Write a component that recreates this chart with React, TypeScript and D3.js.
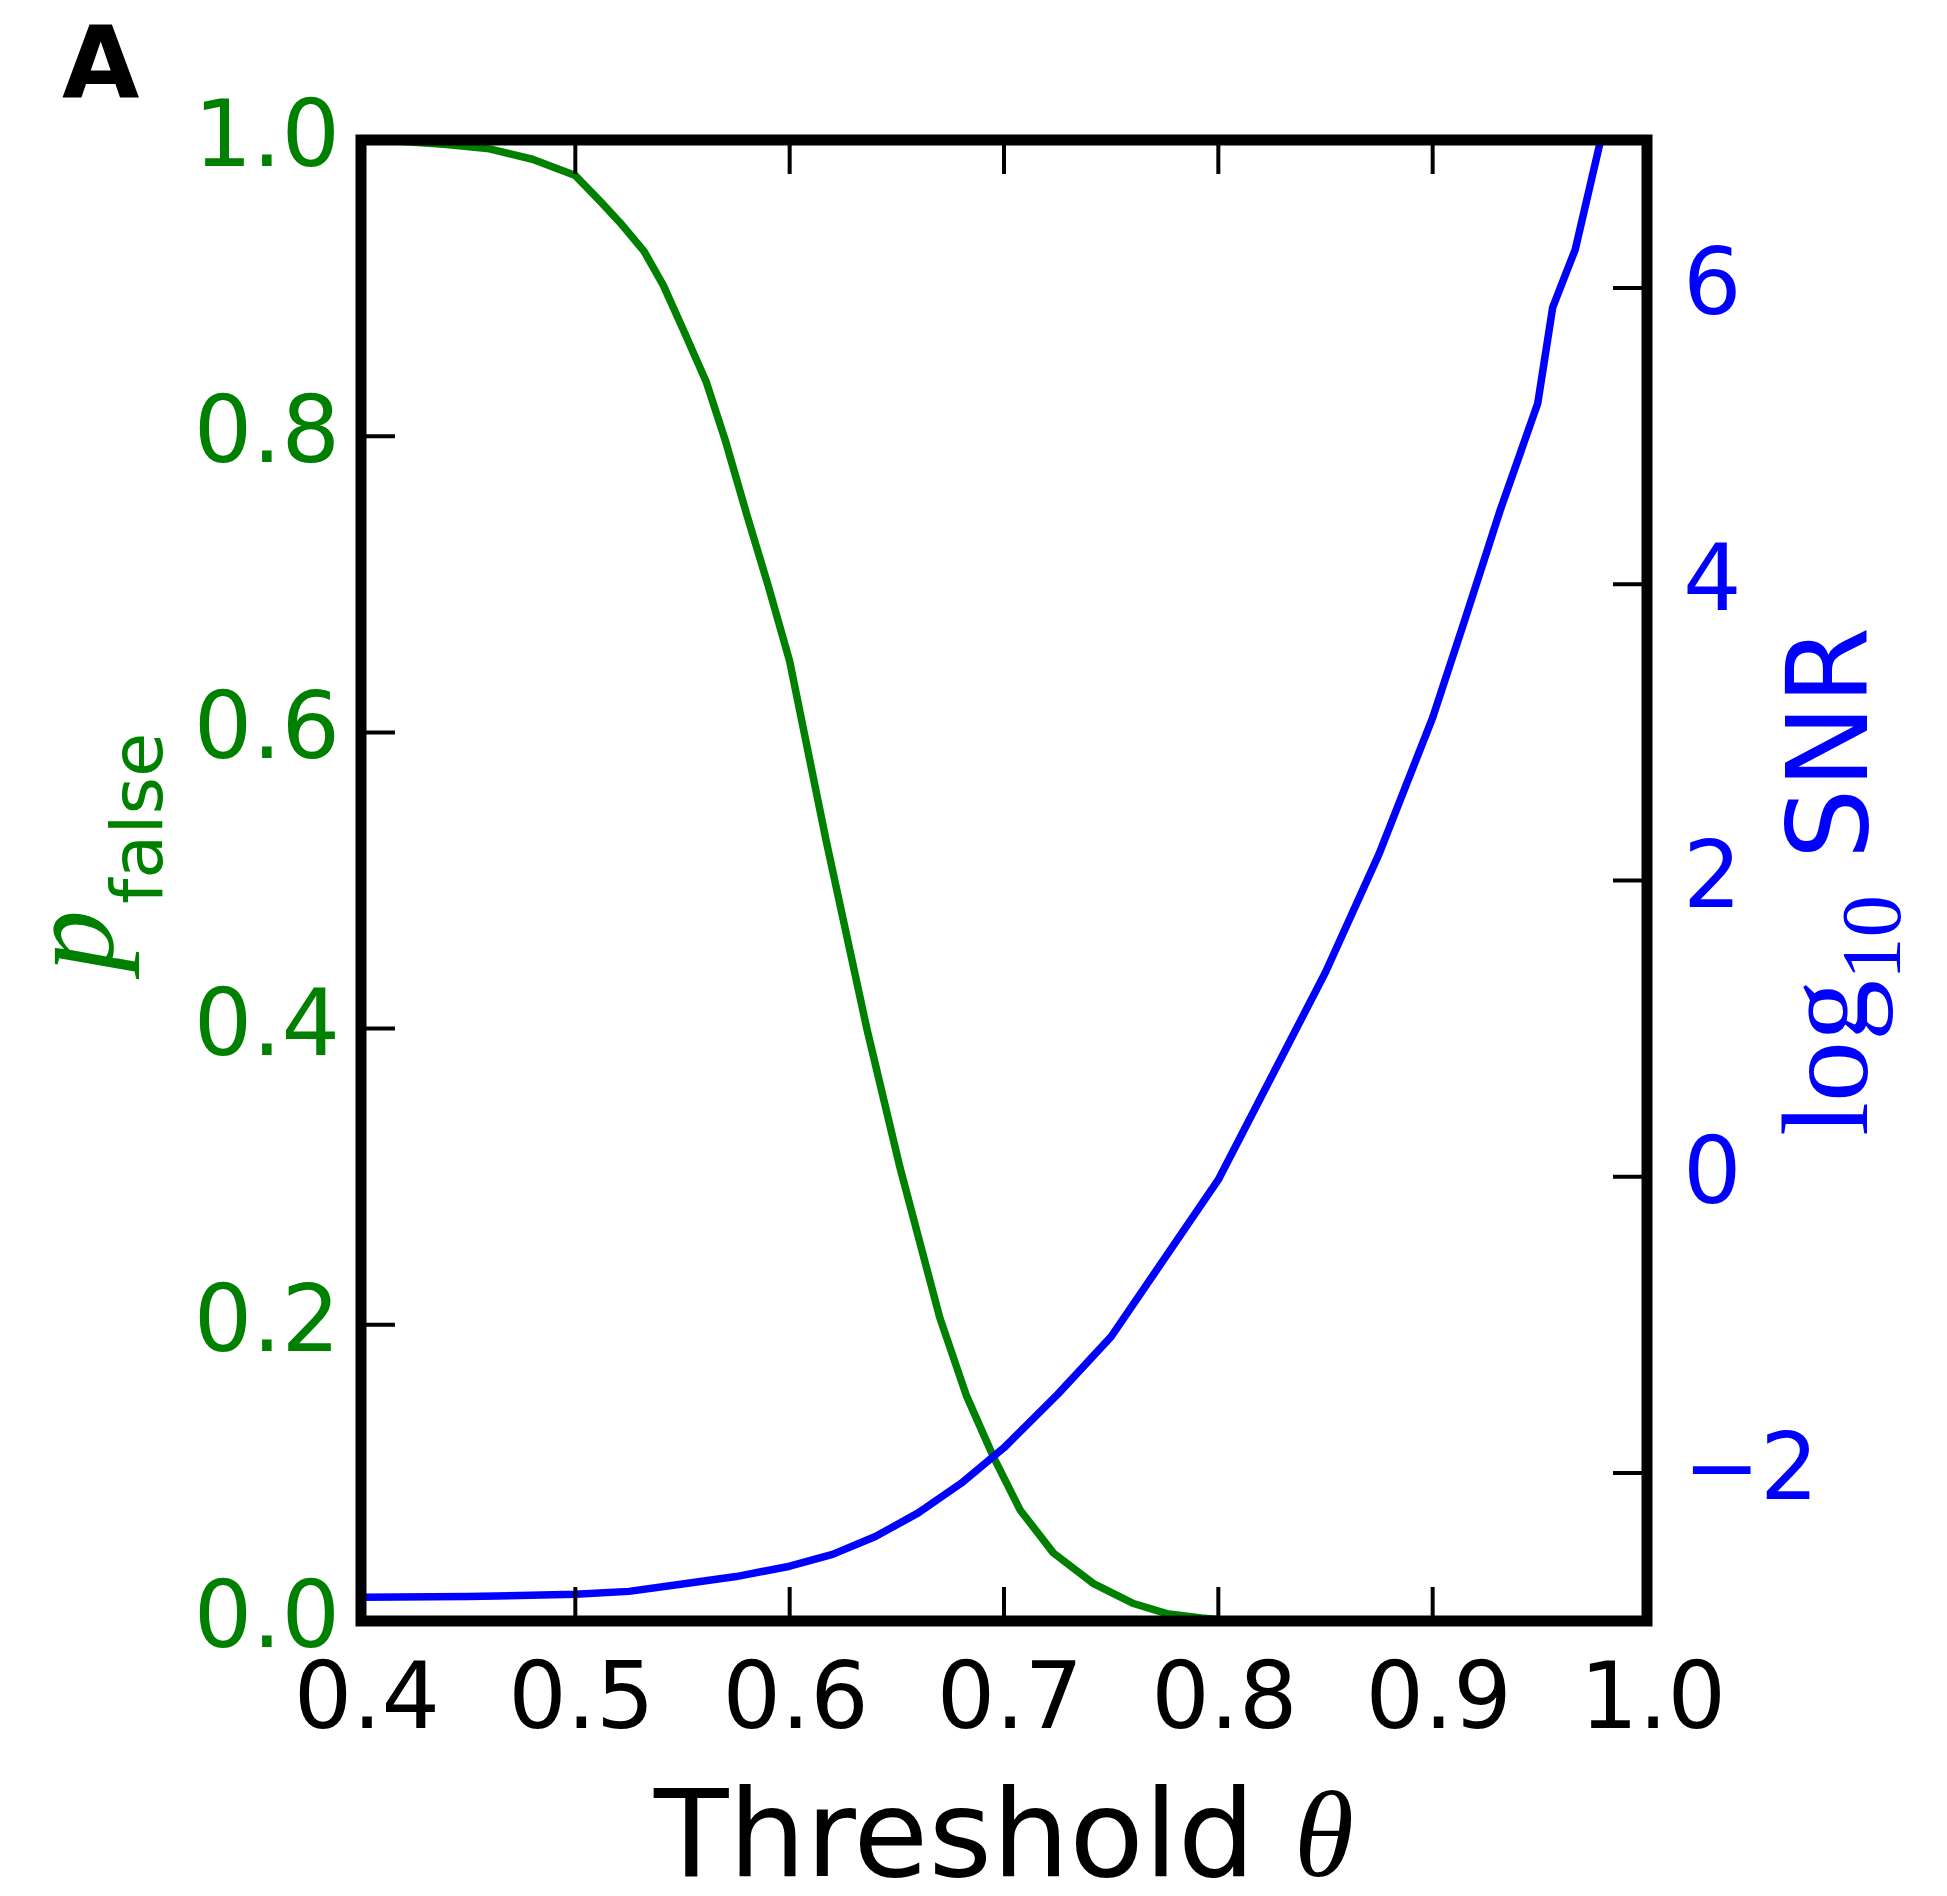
import React from "react";
import * as d3 from "d3";

// ---- data ----
const thetaGreen = [0.4, 0.42, 0.44, 0.46, 0.48, 0.5, 0.512, 0.521, 0.532, 0.541, 0.55, 0.561, 0.57, 0.58, 0.59, 0.6, 0.617, 0.636, 0.6515, 0.67, 0.6825, 0.695, 0.7075, 0.723, 0.742, 0.76, 0.776, 0.792, 0.8, 0.85, 0.9, 0.95, 1.0];
const pFalse = [1.0, 0.999, 0.997, 0.994, 0.987, 0.976, 0.958, 0.944, 0.925, 0.902, 0.873, 0.837, 0.797, 0.747, 0.699, 0.648, 0.527, 0.4, 0.306, 0.205, 0.152, 0.111, 0.075, 0.046, 0.025, 0.012, 0.005, 0.002, 0.001, 0.0, 0.0, 0.0, 0.0];

const thetaBlue = [0.4, 0.45, 0.5, 0.525, 0.55, 0.575, 0.6, 0.62, 0.64, 0.66, 0.68, 0.7, 0.725, 0.75, 0.775, 0.8, 0.825, 0.85, 0.875, 0.9, 0.915, 0.9315, 0.949, 0.956, 0.9665, 0.98];
const log10SNR = [-2.84, -2.835, -2.82, -2.8, -2.75, -2.7, -2.63, -2.55, -2.43, -2.27, -2.07, -1.83, -1.47, -1.08, -0.55, -0.02, 0.68, 1.38, 2.18, 3.1, 3.76, 4.5, 5.22, 5.87, 6.26, 7.1];

const xTicks = [0.4, 0.5, 0.6, 0.7, 0.8, 0.9, 1.0];
const xTickLabels = ["0.4", "0.5", "0.6", "0.7", "0.8", "0.9", "1.0"];
const leftTicks = [0.0, 0.2, 0.4, 0.6, 0.8, 1.0];
const leftTickLabels = ["0.0", "0.2", "0.4", "0.6", "0.8", "1.0"];
const rightTicks = [-2, 0, 2, 4, 6];
const rightTickLabels = ["\u22122", "0", "2", "4", "6"];

const GREEN = "#008000";
const BLUE = "#0000ff";

export default function App() {
  const W = 1947, H = 1896;
  const L = 361, R = 1647, T = 140, B = 1621;
  const x = d3.scaleLinear().domain([0.4, 1.0]).range([L, R]);
  const yL = d3.scaleLinear().domain([0, 1]).range([B, T]);
  const yR = d3.scaleLinear().domain([-3, 7]).range([B, T]);

  const greenLine = d3.line<number>().x((_, i) => x(thetaGreen[i])).y((d) => yL(d))(pFalse) || "";
  const blueLine = d3.line<number>().x((_, i) => x(thetaBlue[i])).y((d) => yR(d))(log10SNR) || "";

  const tickLen = 34;
  const tickW = 4;
  const spineW = 11;
  const tickFont = 92;
  const sans = "'DejaVu Sans', sans-serif";
  const serif = "'Liberation Serif', 'DejaVu Serif', serif";

  return (
    <svg width={W} height={H} style={{ position: "absolute", left: 0, top: 0, background: "#fff" }}>
      <defs>
        <clipPath id="plotclip">
          <rect x={L} y={T} width={R - L} height={B - T} />
        </clipPath>
      </defs>
      <rect x={0} y={0} width={W} height={H} fill="#fff" />

      {/* lines */}
      <g clipPath="url(#plotclip)">
        <path d={greenLine} fill="none" stroke={GREEN} strokeWidth={7.5} strokeLinejoin="round" />
        <path d={blueLine} fill="none" stroke={BLUE} strokeWidth={7.5} strokeLinejoin="round" />
      </g>

      {/* ticks */}
      {xTicks.map((t, i) => (
        <g key={"xt" + i}>
          <line x1={x(t)} x2={x(t)} y1={B} y2={B - tickLen} stroke="#000" strokeWidth={tickW} />
          <line x1={x(t)} x2={x(t)} y1={T} y2={T + tickLen} stroke="#000" strokeWidth={tickW} />
          <text x={x(t) + 6} y={B + 107} textAnchor="middle" fontFamily={sans} fontSize={tickFont} fill="#000">
            {xTickLabels[i]}
          </text>
        </g>
      ))}
      {leftTicks.map((t, i) => (
        <g key={"lt" + i}>
          <line x1={L} x2={L + tickLen} y1={yL(t)} y2={yL(t)} stroke="#000" strokeWidth={tickW} />
          <text x={340} y={yL(t) + 26} textAnchor="end" fontFamily={sans} fontSize={tickFont} fill={GREEN}>
            {leftTickLabels[i]}
          </text>
        </g>
      ))}
      {rightTicks.map((t, i) => (
        <g key={"rt" + i}>
          <line x1={R} x2={R - tickLen} y1={yR(t)} y2={yR(t)} stroke="#000" strokeWidth={tickW} />
          <text x={1683} y={yR(t) + 26} textAnchor="start" fontFamily={sans} fontSize={tickFont} fill={BLUE}>
            {rightTickLabels[i]}
          </text>
        </g>
      ))}

      {/* spines */}
      <rect x={L} y={T} width={R - L} height={B - T} fill="none" stroke="#000" strokeWidth={spineW} />

      {/* panel letter */}
      <text x={62} y={97} fontFamily={sans} fontWeight="bold" fontSize={100} fill="#000">A</text>

      {/* x label */}
      <text x={(L + R) / 2} y={1876} textAnchor="middle" fontFamily={sans} fontSize={122} fill="#000">
        Threshold{" "}
        <tspan fontFamily={serif} fontStyle="italic">θ</tspan>
      </text>

      {/* left y label */}
      <text transform="translate(112, 972) rotate(-90)" fill={GREEN}>
        <tspan fontFamily={serif} fontStyle="italic" fontSize={124}>p</tspan>
        <tspan fontFamily={sans} fontSize={72} dy={50} dx={6}>false</tspan>
      </text>

      {/* right y label */}
      <text transform="translate(1867, 1136) rotate(-90)" fill={BLUE}>
        <tspan fontFamily={serif} fontSize={122}>log</tspan>
        <tspan fontFamily={serif} fontSize={85} dy={33}>10</tspan>
        <tspan fontFamily={sans} fontSize={112} dy={-33}>{" SNR"}</tspan>
      </text>
    </svg>
  );
}
